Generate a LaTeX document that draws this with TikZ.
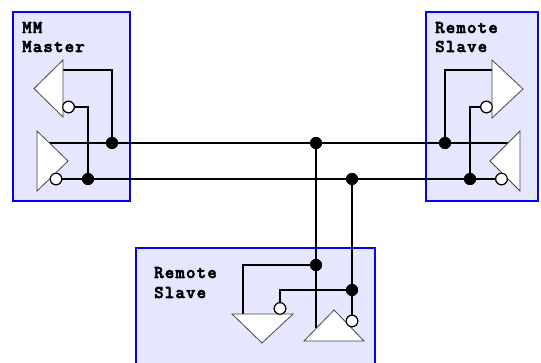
\documentclass[tikz,border=0pt]{standalone}
\usepackage{fontspec}
\newfontfamily\lblfont{lmmonolt10-bold.otf}[LetterSpace=6.5,FakeBold=3]
\definecolor{boxfill}{RGB}{230,230,255}
\definecolor{boxline}{RGB}{0,0,255}
\definecolor{triline}{RGB}{70,70,70}
\begin{document}
\begin{tikzpicture}[x=1pt,y=-1pt,
  box/.style={draw=boxline,fill=boxfill,line width=1.8pt},
  wire/.style={draw=black,line width=2pt},
  tri/.style={draw=triline,fill=white,line width=0.8pt,line join=miter},
  bub/.style={circle,draw=black,fill=white,line width=1.1pt,minimum size=11.5pt,inner sep=0pt},
  dot/.style={circle,fill=black,minimum size=12pt,inner sep=0pt},
  lbl/.style={font=\lblfont\fontsize{18}{20}\selectfont,anchor=base west,inner sep=0pt}]
\useasboundingbox (0,0) rectangle (541,363);

% boxes
\fill[boxfill] (13,12) rectangle (130,201);
\draw[box] (13,12) rectangle (130,201);
\draw[box] (426,12) rectangle (538,201);
\fill[boxfill] (136,248) rectangle (375,366);
\draw[box,fill=none] (136,366) -- (136,248) -- (375,248) -- (375,366);

% labels
\node[lbl] (l1) at (22,33) {MM};
\node[lbl] (l2) at (22,52) {Master};
\node[lbl] (r1) at (435,33) {Remote};
\node[lbl] (r2) at (435,52) {Slave};
\node[lbl] (b1) at (154,278) {Remote};
\node[lbl] (b2) at (154,298) {Slave};

% ports and bend points
\coordinate (ltIn) at (63,70);
\coordinate (lbTop) at (49.4,143);
\coordinate (rtIn) at (492,70);
\coordinate (rbTop) at (508,143);
\coordinate (dtIn) at (243,314);
\coordinate (utIn) at (316,328.5);

% bubbles
\node[bub] (ltB) at (68.5,107) {};
\node[bub] (lbB) at (56,179) {};
\node[bub] (rtB) at (486.5,107) {};
\node[bub] (rbB) at (501.5,179) {};
\node[bub] (dtB) at (280,308.5) {};
\node[bub] (utB) at (352,321) {};

% junction dots
\node[dot] (dA) at (112,143) {};
\node[dot] (dB) at (88,179) {};
\node[dot] (dC) at (445,143) {};
\node[dot] (dD) at (470,179) {};
\node[dot] (dE) at (316,143) {};
\node[dot] (dF) at (352,179) {};
\node[dot] (dG) at (316,265) {};
\node[dot] (dH) at (352,290) {};

% wires
\draw[wire] (lbTop) -- (rbTop);
\draw[wire] (lbB.east) -- (rbB.west);
\draw[wire] (ltIn) -| (dA.center);
\draw[wire] (ltB.east) -| (dB.center);
\draw[wire] (rtIn) -| (dC.center);
\draw[wire] (rtB.west) -| (dD.center);
\draw[wire] (dE.center) -- (utIn);
\draw[wire] (dF.center) -- (utB.north);
\draw[wire] (dG.center) -| (dtIn);
\draw[wire] (dH.center) -| (dtB.north);

% triangles
\draw[tri] (63,60) -- (63,117) -- (34,88.5) -- cycle;
\draw[tri] (37,131) -- (37,191) -- (68,161) -- cycle;
\draw[tri] (492,60) -- (492,118) -- (523,89) -- cycle;
\draw[tri] (520,131) -- (520,191) -- (490,161) -- cycle;
\draw[tri] (232,314) -- (293,314) -- (262,343) -- cycle;
\draw[tri] (304,341) -- (364,341) -- (334,310) -- cycle;

% redraw bubbles and dots on top
\node[bub] at (ltB) {};
\node[bub] at (lbB) {};
\node[bub] at (rtB) {};
\node[bub] at (rbB) {};
\node[bub] at (dtB) {};
\node[bub] at (utB) {};
\foreach \d in {dA,dB,dC,dD,dE,dF,dG,dH} \node[dot] at (\d) {};
\end{tikzpicture}
\end{document}
